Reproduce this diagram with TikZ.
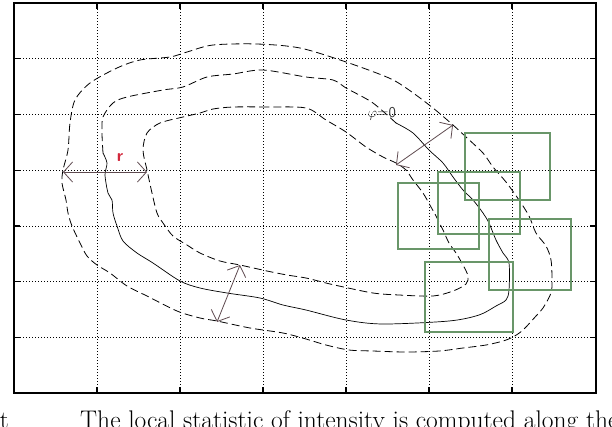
\documentclass[tikz,border=0pt]{standalone}
\usetikzlibrary{arrows.meta}
\definecolor{boxgreen}{RGB}{105,150,105}
\definecolor{arrowcol}{RGB}{95,75,80}
\definecolor{rred}{RGB}{210,40,60}
\begin{document}
\begin{tikzpicture}[x=1pt,y=-1pt,
  contour/.style={line width=0.8pt, black, dash pattern=on 8pt off 4pt},
  solidcontour/.style={line width=0.7pt, black},
  gridline/.style={line width=0.8pt, black, dash pattern=on 1pt off 2pt},
  frame/.style={line width=1.2pt, black},
  greenbox/.style={draw=boxgreen, line width=1.1pt},
  darrow/.style={line width=0.8pt, arrowcol, {Straight Barb[length=9pt,width=20pt]}-{Straight Barb[length=9pt,width=20pt]}}
]
\useasboundingbox (0,0) rectangle (612,426);
\begin{scope}
\clip (0,0) rectangle (612,426);
% grid
\foreach \gx in {97,180,263,346,429,512} {\draw[gridline] (\gx,3) -- (\gx,393);
  \draw[frame] (\gx,393) -- (\gx,387); \draw[frame] (\gx,3) -- (\gx,9);}
\foreach \gy in {58.7,114.4,170.1,225.9,281.6,337.3} {\draw[gridline] (14,\gy) -- (596,\gy);
  \draw[frame] (14,\gy) -- (20,\gy); \draw[frame] (596,\gy) -- (590,\gy);}
\draw[frame] (14,3) rectangle (596,393);

% outer contour
\draw[contour] plot[smooth cycle, tension=0.5] coordinates {
(213,45) (257,44) (300,48) (346,62) (389,78) (409,90) (433,108) (453,125) (466,137) (483,153) (493,167) (506,182) (519,200) (529,216) (536,233) (546,246) (551,260) (552,280) (551,293) (543,308) (536,316) (523,330) (513,337) (503,341) (486,345) (463,348) (439,351) (406,352) (373,351) (349,350) (326,345) (306,339) (283,333) (250,328) (217,321) (200,318) (177,311) (147,296) (127,286) (110,273) (97,265) (87,256) (80,243) (72,226) (68,213) (66,200) (62,183) (63,170) (68,150) (70,123) (75,100) (90,83) (117,68) (140,60) (170,57) (187,52)};

% middle contour: dashed upper part
\draw[contour] plot[smooth, tension=0.5] coordinates {
(103,153) (102,133) (103,117) (113,103) (127,97) (163,90) (183,87) (207,77) (233,74) (263,70) (306,77) (333,80) (346,88) (363,97) (373,103) (385,113) (396,123)};
% middle contour: solid lower part
\draw[solidcontour] plot[smooth, tension=0.5] coordinates {
(396,123) (413,133) (429,150) (443,163) (453,177) (463,190) (473,200) (483,213) (489,223) (496,240) (503,253) (509,263) (509,290) (506,300) (496,306) (479,315) (449,321) (383,324) (346,320) (306,310) (283,305) (260,298) (227,293) (200,288) (180,281) (153,263) (137,253) (123,241) (117,226) (113,213) (112,200) (108,193) (105,175) (107,163) (103,153)};

% inner contour
\draw[contour] plot[smooth cycle, tension=0.5] coordinates {
(306,108) (267,107) (233,107) (213,109) (200,113) (183,117) (160,123) (147,133) (143,150) (147,170) (152,193) (157,213) (163,223) (173,236) (187,245) (200,253) (220,261) (240,265) (267,271) (287,275) (306,278) (326,283) (339,286) (373,293) (399,295) (433,296) (453,291) (466,284) (468,276) (463,265) (456,253) (449,243) (443,230) (436,216) (431,207) (423,193) (413,180) (406,170) (396,163) (383,157) (366,147) (346,132) (326,120)};

% green boxes
\draw[greenbox] (398,183) rectangle (479,249);
\draw[greenbox] (438,172) rectangle (520,234);
\draw[greenbox] (465,133) rectangle (550,200);
\draw[greenbox] (425,262) rectangle (513,332);
\draw[greenbox] (489,219) rectangle (571,290);

% arrows
\coordinate (rl) at (63,172);
\coordinate (rr) at (147,172);
\draw[darrow] (rl) -- (rr);
\node[text=rred, font=\sffamily\bfseries\fontsize{17}{17}\selectfont, inner sep=0pt] (rlab) at (120,158) {r};
\coordinate (pa) at (396,165);
\coordinate (pb) at (453,125);
\draw[darrow] (pa) -- (pb);
\node[text=black!80, font=\sffamily\fontsize{15}{15}\selectfont, inner sep=0pt] (phi) at (382,114) {$\varphi$=0};
\coordinate (qa) at (217,322);
\coordinate (qb) at (240,265);
\draw[darrow] (qa) -- (qb);

% caption (cut off at the lower edge, as in the reference)
\node[anchor=base east, inner sep=0pt, font=\fontsize{25}{25}\selectfont] (capt) at (9,428) {t};
\node[anchor=base west, inner sep=0pt, font=\fontsize{25.5}{25.5}\selectfont] (capb) at (80,428) {The local statistic of intensity is computed along the};
\end{scope}
\end{tikzpicture}
\end{document}
